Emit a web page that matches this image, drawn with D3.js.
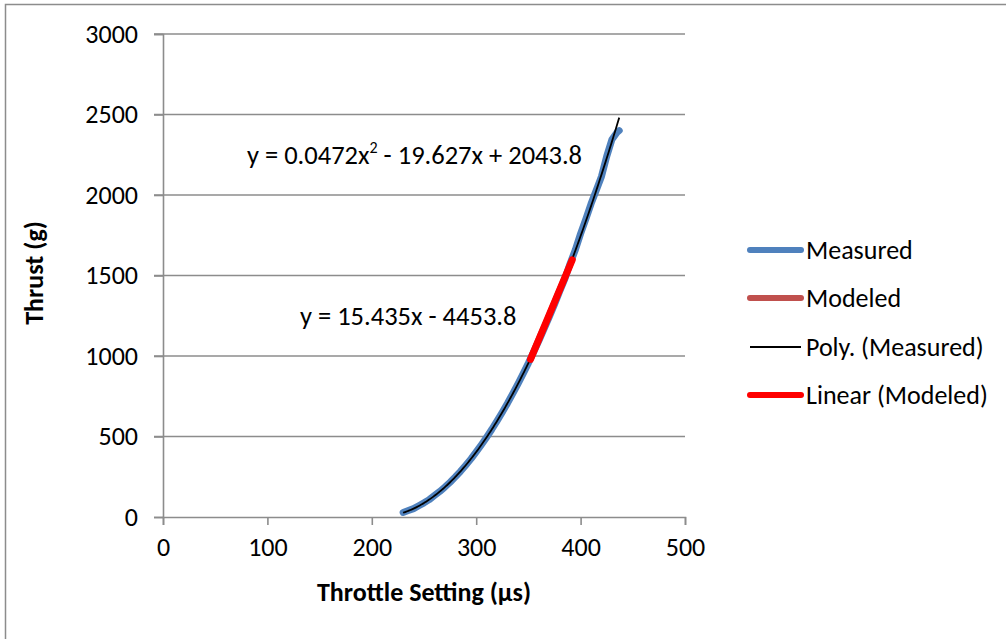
<!DOCTYPE html>
<html>
<head>
<meta charset="utf-8">
<script src="https://cdn.jsdelivr.net/npm/d3@7"></script>
<style>
  html, body { margin: 0; padding: 0; background: #fff; }
  svg { display: block; }
  text { font-family: Carlito, Calibri, Lato, "Open Sans", sans-serif; fill: #000; }
</style>
</head>
<body>
<svg id="chart" width="1006" height="639"></svg>
<script>
// Measured thrust versus throttle pulse width
const measuredThrottle = [230, 235, 240, 245, 250, 255, 260, 265, 270, 275, 280, 285, 290, 295, 300,
  305, 310, 315, 320, 325, 330, 335, 340, 345, 350, 355, 360, 365, 370, 375, 380, 385, 390, 395,
  400, 405, 410, 415, 420, 425, 430, 435, 437];
const measuredThrust = [28, 40, 52, 70, 88, 108, 133, 158, 186, 216, 249, 284, 322, 361, 404,
  449, 496, 545, 597, 651, 707, 766, 827, 891, 956, 1025, 1094, 1168, 1243, 1320, 1402, 1480, 1575, 1660,
  1760, 1850, 1945, 2030, 2115, 2240, 2345, 2390, 2400];

// Modeled (linear region) points
const modeledThrottle = [352, 357, 362, 367, 372, 377, 382, 387, 392];
const modeledThrust = [985, 1062, 1139, 1210, 1290, 1367, 1444, 1520, 1598];

// Trendline coefficients as printed on the chart
const polyCoef = [0.0472, -19.627, 2043.8];   // a x^2 + b x + c
const linearCoef = [15.435, -4453.8];         // m x + k

const xTicks = [0, 100, 200, 300, 400, 500];
const yTicks = [0, 500, 1000, 1500, 2000, 2500, 3000];

const seriesNames = ["Measured", "Modeled", "Poly. (Measured)", "Linear (Modeled)"];
const seriesColors = ["#4F81BD", "#C0504D", "#000000", "#FF0000"];
const seriesWidths = [7, 6, 1.8, 7];

const svg = d3.select("#chart");
const gridColor = "#8c8c8c";

// Outer chart frame
svg.append("rect")
  .attr("x", 5.5).attr("y", 4.5)
  .attr("width", 1100).attr("height", 700)
  .attr("fill", "none").attr("stroke", gridColor).attr("stroke-width", 1.5);

const plot = { left: 163, right: 685, top: 34, bottom: 517 };
const x = d3.scaleLinear().domain([0, 500]).range([plot.left, plot.right]);
const y = d3.scaleLinear().domain([0, 3000]).range([plot.bottom, plot.top]);

// Horizontal gridlines (extend left as tick marks)
svg.append("g").selectAll("line").data(yTicks.filter(t => t > 0)).join("line")
  .attr("x1", plot.left - 9).attr("x2", plot.right)
  .attr("y1", d => y(d)).attr("y2", d => y(d))
  .attr("stroke", gridColor).attr("stroke-width", 1.6);

// Axes
const xAxis = svg.append("g").attr("transform", `translate(0,${plot.bottom})`)
  .call(d3.axisBottom(x).tickValues(xTicks).tickSize(8).tickPadding(9).tickFormat(d3.format("d")));
const yAxis = svg.append("g").attr("transform", `translate(${plot.left},0)`)
  .call(d3.axisLeft(y).tickValues(yTicks).tickSize(9).tickPadding(16).tickFormat(d3.format("d")));
[xAxis, yAxis].forEach(g => {
  g.selectAll("path.domain").attr("stroke", gridColor).attr("stroke-width", 1.6);
  g.selectAll(".tick line").attr("stroke", gridColor).attr("stroke-width", 1.6);
  g.selectAll(".tick text").attr("font-size", 26).attr("fill", "#000")
    .style("font-family", "Carlito, Calibri, Lato, sans-serif");
});
xAxis.selectAll(".tick text").attr("dy", "0.85em");

// Axis titles
svg.append("text")
  .attr("x", 424).attr("y", 601)
  .attr("text-anchor", "middle")
  .attr("font-size", 26).attr("font-weight", "bold")
  .text("Throttle Setting (µs)");
svg.append("text")
  .attr("transform", "translate(43,273) rotate(-90)")
  .attr("text-anchor", "middle")
  .attr("font-size", 26).attr("font-weight", "bold")
  .text("Thrust (g)");

const line = d3.line().x(d => x(d[0])).y(d => y(d[1]));

// Measured series
svg.append("path")
  .datum(measuredThrottle.map((t, i) => [t, measuredThrust[i]]))
  .attr("d", line)
  .attr("fill", "none").attr("stroke", seriesColors[0])
  .attr("stroke-width", seriesWidths[0]).attr("stroke-linejoin", "round").attr("stroke-linecap", "round");

// Modeled series
svg.append("path")
  .datum(modeledThrottle.map((t, i) => [t, modeledThrust[i]]))
  .attr("d", line)
  .attr("fill", "none").attr("stroke", seriesColors[1])
  .attr("stroke-width", seriesWidths[1]).attr("stroke-linecap", "round");

// Polynomial trendline over the measured range
const xMin = d3.min(measuredThrottle), xMax = d3.max(measuredThrottle);
const polyPts = d3.range(xMin, xMax + 0.5, 1).map(t => [t, polyCoef[0] * t * t + polyCoef[1] * t + polyCoef[2]]);
svg.append("path").datum(polyPts).attr("d", line)
  .attr("fill", "none").attr("stroke", seriesColors[2]).attr("stroke-width", seriesWidths[2]);

// Linear trendline over the modeled range
const mMin = d3.min(modeledThrottle), mMax = d3.max(modeledThrottle);
const linPts = [mMin, mMax].map(t => [t, linearCoef[0] * t + linearCoef[1]]);
svg.append("path").datum(linPts).attr("d", line)
  .attr("fill", "none").attr("stroke", seriesColors[3])
  .attr("stroke-width", seriesWidths[3]).attr("stroke-linecap", "round");

// Trendline equations
const eq1 = svg.append("text").attr("x", 247).attr("y", 164).attr("font-size", 26.5);
eq1.append("tspan").text("y = 0.0472x");
eq1.append("tspan").attr("font-size", 16).attr("dy", -11).text("2");
eq1.append("tspan").attr("dy", 11).text(" - 19.627x + 2043.8");
svg.append("text").attr("x", 300).attr("y", 325).attr("font-size", 26.5)
  .text("y = 15.435x - 4453.8");

// Legend
const legend = svg.append("g");
const legendY = [250, 298, 347, 395];
seriesNames.forEach((name, i) => {
  legend.append("line")
    .attr("x1", 750).attr("x2", 801)
    .attr("y1", legendY[i]).attr("y2", legendY[i])
    .attr("stroke", seriesColors[i]).attr("stroke-width", i === 2 ? 1.8 : 6)
    .attr("stroke-linecap", i === 2 ? "butt" : "round");
  legend.append("text")
    .attr("x", 806).attr("y", legendY[i]).attr("dy", "0.36em")
    .attr("font-size", 26).text(name);
});
</script>
</body>
</html>
